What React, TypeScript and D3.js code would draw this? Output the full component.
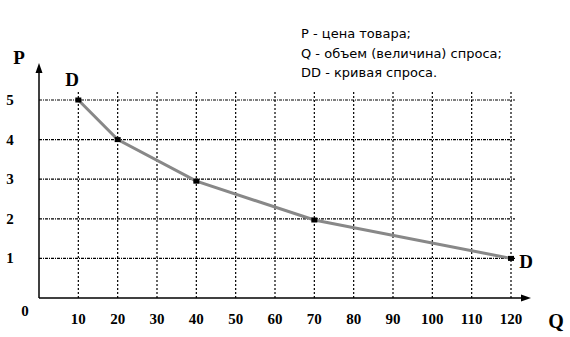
import React from "react";
import * as d3 from "d3";

const xTicks = [10, 20, 30, 40, 50, 60, 70, 80, 90, 100, 110, 120];
const yTicks = [1, 2, 3, 4, 5];
const demandQ = [10, 20, 40, 70, 120];
const demandP = [5, 4, 2.95, 1.97, 1];
const legendLines = ["P - цена товара;", "Q - объем (величина) спроса;", "DD - кривая спроса."];

export default function App() {
  const W = 570, H = 337;
  const x = d3.scaleLinear().domain([0, 120]).range([39, 511]);
  const y = d3.scaleLinear().domain([0, 5]).range([298, 100]);
  const pts = demandQ.map((q, i) => [q, demandP[i]] as [number, number]);
  const line = d3.line<[number, number]>().x(d => x(d[0])).y(d => y(d[1]));
  const serif = "'Liberation Serif', 'Times New Roman', serif";
  return (
    <svg width={W} height={H} style={{ position: "absolute", left: 0, top: 0, background: "#fff" }}>
      <rect width={W} height={H} fill="#fff" />
      {xTicks.map(t => (
        <line key={"vx" + t} x1={x(t)} x2={x(t)} y1={92} y2={y(0)} stroke="#000" strokeWidth={1.2} strokeDasharray="2,2" />
      ))}
      {yTicks.map(t => (
        <line key={"hy" + t} x1={x(0)} x2={515} y1={y(t)} y2={y(t)} stroke="#000" strokeWidth={1.2} strokeDasharray="3,1,1,1" />
      ))}
      {/* axes */}
      <line x1={x(0)} x2={x(0)} y1={y(0)} y2={70} stroke="#000" strokeWidth={1.5} />
      <path d={`M${x(0)},63 L${x(0) - 3.5},73 L${x(0) + 3.5},73 Z`} fill="#000" />
      <line x1={x(0)} x2={522} y1={y(0)} y2={y(0)} stroke="#000" strokeWidth={1.5} />
      <path d={`M531,${y(0)} L521,${y(0) - 3.5} L521,${y(0) + 3.5} Z`} fill="#000" />
      <path d={line(pts) || ""} fill="none" stroke="#888888" strokeWidth={3} />
      {pts.map((p, i) => (
        <rect key={"m" + i} x={x(p[0]) - 3} y={y(p[1]) - 2.5} width={6} height={5} fill="#000" />
      ))}
      {yTicks.map(t => (
        <text key={"yl" + t} x={10} y={y(t) + 5} textAnchor="middle" fontFamily={serif} fontWeight="bold" fontSize={15}>{t}</text>
      ))}
      {xTicks.map(t => (
        <text key={"xl" + t} x={x(t)} y={324} textAnchor="middle" fontFamily={serif} fontWeight="bold" fontSize={15}>{t}</text>
      ))}
      <text x={25} y={316} textAnchor="middle" fontFamily={serif} fontWeight="bold" fontSize={15}>0</text>
      <text x={19} y={64} textAnchor="middle" fontFamily={serif} fontWeight="bold" fontSize={19}>P</text>
      <text x={556} y={328} textAnchor="middle" fontFamily={serif} fontWeight="bold" fontSize={20}>Q</text>
      <text x={72} y={86} textAnchor="middle" fontFamily={serif} fontWeight="bold" fontSize={19}>D</text>
      <text x={526} y={268} textAnchor="middle" fontFamily={serif} fontWeight="bold" fontSize={19}>D</text>
      {legendLines.map((s, i) => (
        <text key={"lg" + i} x={301} y={38 + i * 19.5} fontFamily="'DejaVu Sans', sans-serif" fontSize={13} fill="#000">{s}</text>
      ))}
    </svg>
  );
}
